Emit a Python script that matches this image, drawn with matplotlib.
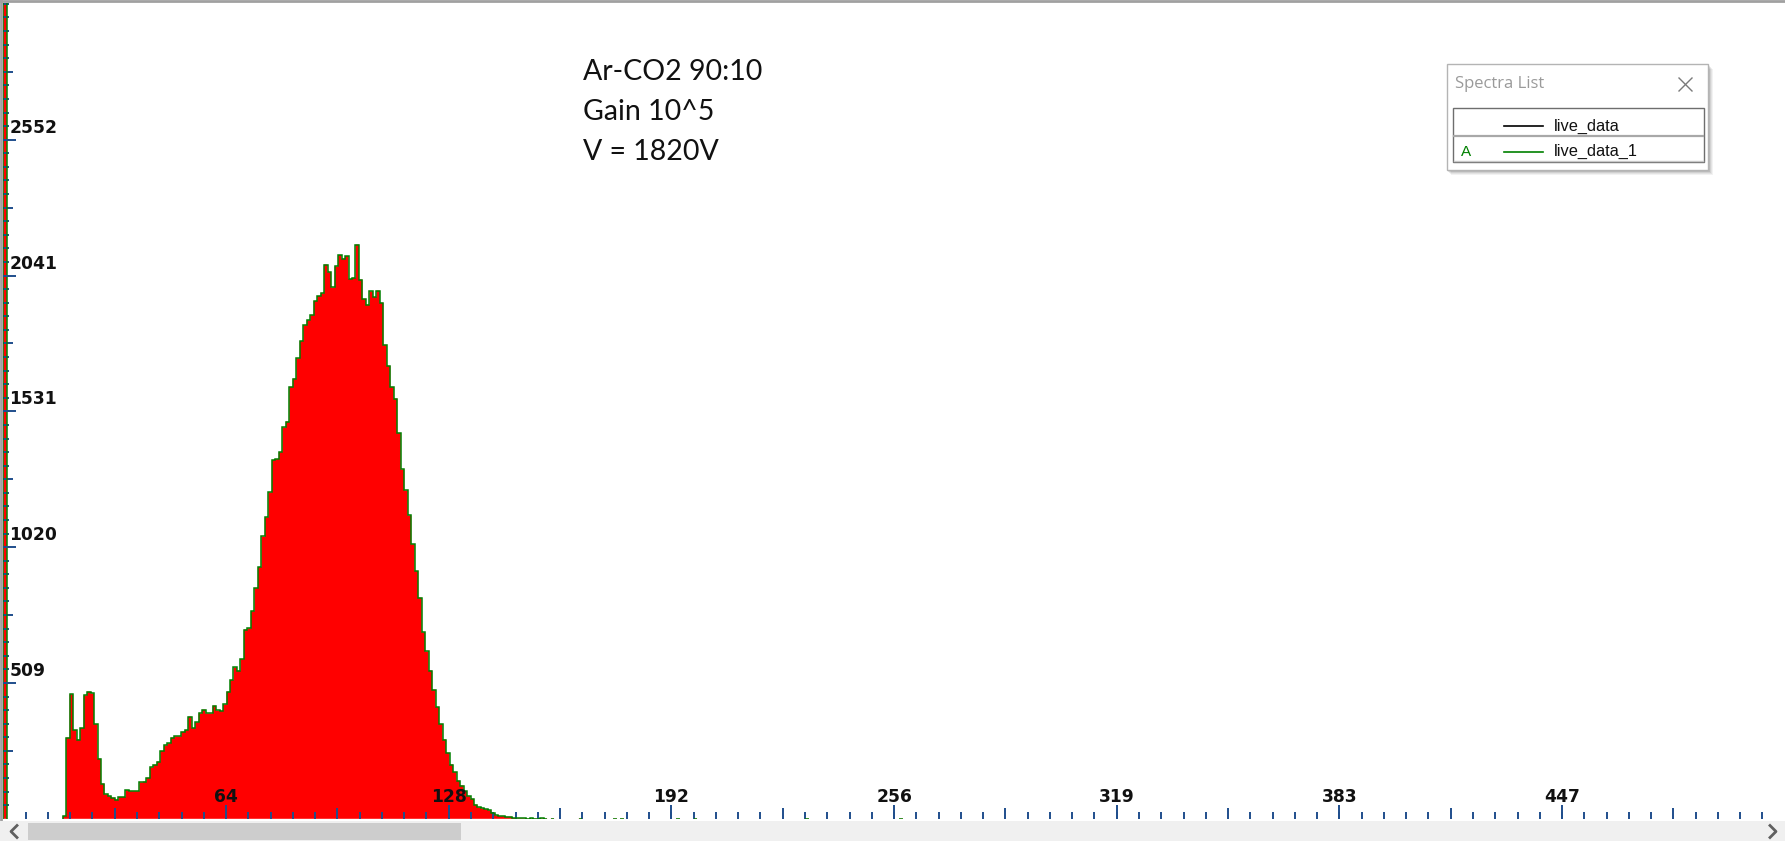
import numpy as np
import matplotlib
matplotlib.use("Agg")
import matplotlib.pyplot as plt
from matplotlib.patches import Rectangle
from matplotlib.lines import Line2D

# ---------------- data ----------------
n_channels = 512
overflow_channel = 0
overflow_count = 3600          # off-scale first channel
first_channel = 17
counts_main = [
    10, 305, 468, 334, 298, 341, 464, 478, 471, 356,
    226, 132, 92, 85, 79, 72, 82, 82, 108, 104,
    104, 104, 137, 140, 154, 193, 203, 215, 255, 276,
    284, 305, 310, 310, 327, 334, 384, 341, 363, 396,
    410, 396, 396, 425, 407, 406, 430, 478, 521, 569,
    557, 600, 711, 716, 780, 867, 946, 1061, 1133, 1227,
    1349, 1352, 1378, 1471, 1493, 1623, 1654, 1731, 1795, 1855,
    1874, 1893, 1946, 1965, 1975, 2083, 2054, 1997, 2076, 2119,
    2105, 2115, 2029, 2033, 2158, 2026, 1954, 1932, 1982, 1961,
    1985, 1939, 1781, 1702, 1623, 1579, 1450, 1313, 1234, 1140,
    1032, 931, 831, 701, 629, 557, 485, 420, 356, 298,
    248, 204, 176, 143, 125, 104, 85, 75, 53, 43,
    39, 36, 32, 22, 13, 10, 10, 8, 8, 3,
    2, 2, 2, 1, 2, 1, 1, 2, 1,
]
sparse_channels = [157, 165, 175, 177, 193, 198, 230, 257]
sparse_counts = [1, 1, 1, 1, 1, 1, 1, 1]

x_tick_step = 63.875
x_label_values = [x_tick_step * k for k in range(1, 8)]
x_labels = ["64", "128", "192", "256", "319", "383", "447"]
y_tick_step = 510.4
y_label_values = [y_tick_step * k for k in range(1, 6)]
y_labels = ["509", "1020", "1531", "2041", "2552"]

annotation_lines = ["Ar-CO2 90:10", "Gain 10^5", "V = 1820V"]
legend_title = "Spectra List"
legend_entries = ["live_data", "live_data_1"]
legend_colors = ["#000000", "#008000"]
legend_markers = ["", "A"]

# ---------------- build arrays ----------------
counts = np.zeros(n_channels)
counts[overflow_channel] = overflow_count
counts[first_channel:first_channel + len(counts_main)] = counts_main
counts[sparse_channels] = sparse_counts
edges = np.arange(n_channels + 1)

# ---------------- figure ----------------
W, H = 1785, 841
DPI = 100
fig = plt.figure(figsize=(W / DPI, H / DPI), dpi=DPI)
fig.patch.set_facecolor("white")

def fx(x):
    return x / W

def fy(y):
    return 1 - y / H

x0_px, base_px, top_px = 3.4, 818.8, 3.0
px_per_ch = 3.486
px_per_count = 0.2661
ax = fig.add_axes([fx(x0_px), fy(base_px), (W - x0_px) / W, (base_px - top_px) / H])
ax.set_xlim(0, (W - x0_px) / px_per_ch)
ax.set_ylim(0, (base_px - top_px) / px_per_count)
ax.set_facecolor("white")
for s in ax.spines.values():
    s.set_visible(False)

red = "#FF0000"
green = "#008000"
ax.stairs(counts, edges, fill=True, color=red, linewidth=0, zorder=1)

# outline per contiguous non-zero run
nz = counts > 0
i = 0
while i < n_channels:
    if nz[i]:
        j = i
        while j < n_channels and nz[j]:
            j += 1
        ax.stairs(counts[i:j], edges[i:j + 1], baseline=0, fill=False,
                  color=green, linewidth=1.1, zorder=2)
        i = j
    else:
        i += 1

tick_color = "#1F4E8C"
ymax = ax.get_ylim()[1]

# x ticks
x_minor = np.arange(x_tick_step / 10, 505.5, x_tick_step / 10)
x_mid = np.arange(x_tick_step / 2, 505.5, x_tick_step)
ax.set_xticks(x_mid)
ax.set_xticks(x_minor, minor=True)
ax.tick_params(axis="x", which="major", direction="in", length=8, width=1.4,
               color=tick_color, labelbottom=False)
ax.tick_params(axis="x", which="minor", direction="in", length=5, width=1.4,
               color=tick_color, labelbottom=False)
# y ticks
y_minor = np.arange(y_tick_step / 10, ymax, y_tick_step / 10)
y_mid = np.arange(y_tick_step / 2, ymax, y_tick_step)
ax.set_yticks(y_mid)
ax.set_yticks(y_minor, minor=True)
ax.tick_params(axis="y", which="major", direction="in", length=7.5, width=1.4,
               color=tick_color, labelleft=False)
ax.tick_params(axis="y", which="minor", direction="in", length=4.5, width=1.4,
               color=tick_color, labelleft=False)

# labelled (longest) ticks via secondary axes
secx = ax.secondary_xaxis("bottom")
secx.set_xticks(x_label_values)
secx.tick_params(direction="in", length=10, width=1.4, color=tick_color, labelbottom=False)
secy = ax.secondary_yaxis("left")
secy.set_yticks(y_label_values)
secy.tick_params(direction="in", length=9.5, width=1.4, color=tick_color, labelleft=False)
for sa in (secx, secy):
    sa.set_zorder(5)
    for s in sa.spines.values():
        s.set_visible(False)
    sa.patch.set_visible(False)
ax.set_zorder(1)

lab_font = dict(family="DejaVu Sans", weight="bold", size=12.3, color="#111111")
for v, t in zip(x_label_values, x_labels):
    ax.annotate(t, xy=(v, 0), xycoords=ax.get_xaxis_transform(),
                xytext=(0, 12), textcoords="offset points",
                ha="center", va="baseline", zorder=6, **lab_font)
for v, t in zip(y_label_values, y_labels):
    ax.annotate(t, xy=(0, v), xycoords=ax.get_yaxis_transform(),
                xytext=(4.4, 5), textcoords="offset points",
                ha="left", va="baseline", zorder=6, **lab_font)

# annotation text
for k, line in enumerate(annotation_lines):
    fig.text(fx(583), fy(72.5 + 39.9 * k), line, family="Lato", size=20.5,
             color="#111111", ha="left", va="center", zorder=10)

# ---------------- legend window ----------------
def frect(x1, y1, x2, y2, **kw):
    r = Rectangle((fx(x1), fy(y2)), (x2 - x1) / W, (y2 - y1) / H,
                  transform=fig.transFigure, **kw)
    fig.add_artist(r)
    return r

for d, a in [(5, 0.05), (4, 0.06), (3, 0.08), (2, 0.10)]:
    frect(1447 + d - 1, 64 + d, 1708 + d, 170 + d, facecolor="#000000",
          edgecolor="none", alpha=a, zorder=9)
frect(1447, 64, 1708, 170, facecolor="white", edgecolor="#B4B4B4", linewidth=1.0, zorder=10)
fig.text(fx(1455), fy(84.5), legend_title, family="Open Sans", size=12,
         color="#9A9A9A", ha="left", va="center", zorder=11)
for xa, xb, ya, yb in [(1679, 1692, 78, 91), (1679, 1692, 91, 78)]:
    fig.add_artist(Line2D([fx(xa), fx(xb)], [fy(ya), fy(yb)], transform=fig.transFigure,
                          color="#7A7A7A", linewidth=1.0, zorder=11))
frect(1452.7, 108.3, 1704, 162.3, facecolor="white", edgecolor="#6E6E6E", linewidth=1.0, zorder=11)
fig.add_artist(Line2D([fx(1454), fx(1703)], [fy(136), fy(136)], transform=fig.transFigure,
                      color="#A8A8A8", linewidth=1.6, zorder=12))
fig.add_artist(Line2D([fx(1454), fx(1703)], [fy(160.5), fy(160.5)], transform=fig.transFigure,
                      color="#C8C8C8", linewidth=1.0, zorder=12))
for k, (name, col, mk) in enumerate(zip(legend_entries, legend_colors, legend_markers)):
    yy = 126 + 25.7 * k
    fig.add_artist(Line2D([fx(1504), fx(1543)], [fy(yy), fy(yy)], transform=fig.transFigure,
                          color=col, linewidth=1.2, zorder=12))
    fig.text(fx(1554), fy(yy), name, family="Liberation Sans", size=11.8,
             color="#111111", ha="left", va="center", zorder=12)
    if mk:
        fig.text(fx(1461), fy(yy), mk, family="Liberation Sans", size=11,
                 color=col, ha="left", va="center", zorder=12)

# ---------------- window chrome ----------------
fig.add_artist(Line2D([0, 1], [fy(1), fy(1)], transform=fig.transFigure,
                      color="#A0A0A0", linewidth=2, zorder=20))
fig.add_artist(Line2D([fx(1), fx(1)], [fy(0), fy(820)], transform=fig.transFigure,
                      color="#A0A0A0", linewidth=2, zorder=20))
frect(0, 821, W, 841, facecolor="#F0F0F0", edgecolor="none", zorder=20)
frect(28, 823, 461, 840, facecolor="#CDCDCD", edgecolor="none", zorder=21)
for cx, sgn in [(14, 1), (1773, -1)]:
    fig.add_artist(Line2D([fx(cx + 3 * sgn), fx(cx - 3 * sgn), fx(cx + 3 * sgn)],
                          [fy(825.5), fy(831.5), fy(837.5)], transform=fig.transFigure,
                          color="#606060", linewidth=2.0, zorder=22))

fig.savefig("out.png", dpi=DPI)
